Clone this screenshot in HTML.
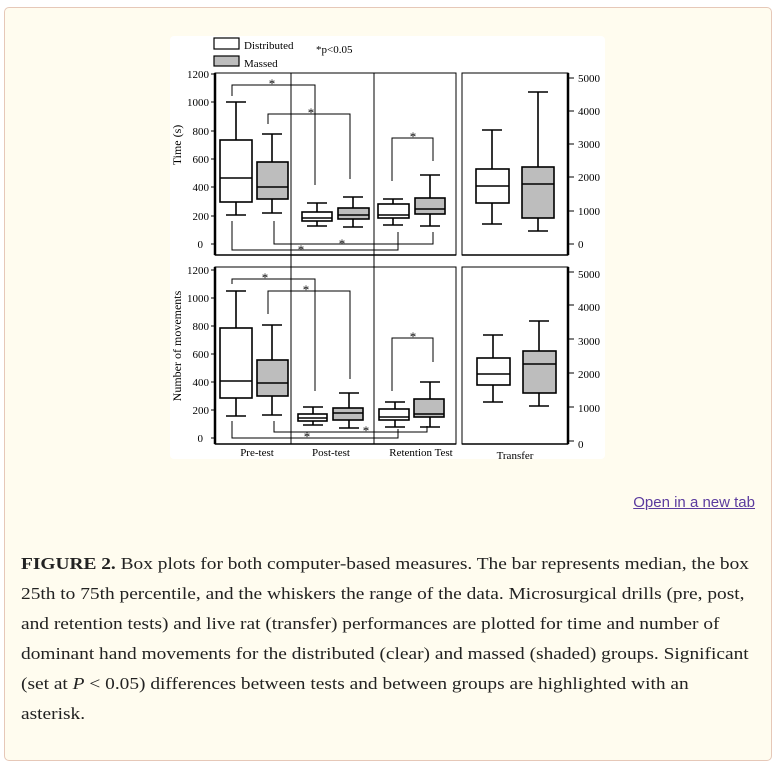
<!DOCTYPE html>
<html><head><meta charset="utf-8">
<style>
html,body{margin:0;padding:0;background:#fff;}
body{width:779px;height:767px;position:relative;overflow:hidden;font-family:"Liberation Serif",serif;}
.frame{position:absolute;left:4px;top:7px;width:766px;height:752px;border:1px solid #e6c8b8;border-radius:5px;background:#fffcef;}
.fig{position:absolute;left:170px;top:36px;width:435px;height:423px;background:#fff;border-radius:4px;}
.link{position:absolute;right:24px;top:494px;font-family:"Liberation Sans",sans-serif;font-size:15px;color:#5b3b9e;text-decoration:underline;}
.cap{position:absolute;left:21px;top:549px;font-size:17px;line-height:30px;color:#222;white-space:nowrap;transform:scaleX(1.14);transform-origin:0 0;}
svg{position:absolute;left:0;top:0;}
</style></head><body>
<div class="frame"></div>
<div class="fig"></div>
<svg width="779" height="767" font-family="Liberation Serif, serif" fill="none" stroke="#000">
<rect x="214" y="38" width="25" height="11" stroke-width="1.2" fill="#fff"/>
<rect x="214" y="56" width="25" height="10" stroke-width="1.2" fill="#bdbdbd"/>
<g fill="#000" stroke="none" font-size="11">
<text x="244" y="49">Distributed</text>
<text x="244" y="67">Massed</text>
<text x="316" y="53">*p&lt;0.05</text>
</g>
<rect x="215" y="73" width="241" height="182" stroke-width="1"/>
<rect x="462" y="73" width="106" height="182" stroke-width="1"/>
<line x1="215" y1="73" x2="215" y2="255" stroke-width="2.5"/>
<line x1="568" y1="73" x2="568" y2="255" stroke-width="2.5"/>
<line x1="215" y1="255" x2="456" y2="255" stroke-width="1.5"/>
<line x1="462" y1="255" x2="568" y2="255" stroke-width="1.5"/>
<line x1="291" y1="73" x2="291" y2="262" stroke-width="1"/>
<line x1="374" y1="73" x2="374" y2="262" stroke-width="1"/>
<g stroke-width="1">
<line x1="211" y1="74" x2="215" y2="74"/><line x1="211" y1="102" x2="215" y2="102"/><line x1="211" y1="131" x2="215" y2="131"/><line x1="211" y1="159" x2="215" y2="159"/><line x1="211" y1="187" x2="215" y2="187"/><line x1="211" y1="216" x2="215" y2="216"/><line x1="211" y1="244" x2="215" y2="244"/>
<line x1="568" y1="78" x2="574" y2="78"/><line x1="568" y1="111" x2="574" y2="111"/><line x1="568" y1="144" x2="574" y2="144"/><line x1="568" y1="177" x2="574" y2="177"/><line x1="568" y1="211" x2="574" y2="211"/><line x1="568" y1="244" x2="574" y2="244"/>
</g>
<g fill="#000" stroke="none" font-size="11" text-anchor="end">
<text x="209" y="78">1200</text><text x="209" y="106">1000</text><text x="209" y="135">800</text><text x="209" y="163">600</text><text x="209" y="191">400</text><text x="209" y="220">200</text><text x="203" y="248">0</text>
</g>
<g fill="#000" stroke="none" font-size="11">
<text x="578" y="82">5000</text><text x="578" y="115">4000</text><text x="578" y="148">3000</text><text x="578" y="181">2000</text><text x="578" y="215">1000</text><text x="578" y="248">0</text>
<text transform="translate(181,145) rotate(-90)" text-anchor="middle" font-size="12">Time (s)</text>
</g>
<g stroke-width="1.6">
<line x1="236" y1="102" x2="236" y2="215"/><line x1="226" y1="102" x2="246" y2="102"/><line x1="226" y1="215" x2="246" y2="215"/>
<rect x="220" y="140" width="32" height="62" fill="#fff"/><line x1="220" y1="178" x2="252" y2="178"/>
<line x1="272" y1="134" x2="272" y2="213"/><line x1="262" y1="134" x2="282" y2="134"/><line x1="262" y1="213" x2="282" y2="213"/>
<rect x="257" y="162" width="31" height="37" fill="#bdbdbd"/><line x1="257" y1="187" x2="288" y2="187"/>
<line x1="317" y1="203" x2="317" y2="226"/><line x1="307" y1="203" x2="327" y2="203"/><line x1="307" y1="226" x2="327" y2="226"/>
<rect x="302" y="212" width="30" height="9" fill="#fff"/><line x1="302" y1="218" x2="332" y2="218"/>
<line x1="353" y1="197" x2="353" y2="227"/><line x1="343" y1="197" x2="363" y2="197"/><line x1="343" y1="227" x2="363" y2="227"/>
<rect x="338" y="208" width="31" height="11" fill="#bdbdbd"/><line x1="338" y1="215" x2="369" y2="215"/>
<line x1="393" y1="199" x2="393" y2="225"/><line x1="383" y1="199" x2="403" y2="199"/><line x1="383" y1="225" x2="403" y2="225"/>
<rect x="378" y="204" width="31" height="14" fill="#fff"/><line x1="378" y1="215" x2="409" y2="215"/>
<line x1="430" y1="175" x2="430" y2="226"/><line x1="420" y1="175" x2="440" y2="175"/><line x1="420" y1="226" x2="440" y2="226"/>
<rect x="415" y="198" width="30" height="16" fill="#bdbdbd"/><line x1="415" y1="209" x2="445" y2="209"/>
<line x1="492" y1="130" x2="492" y2="224"/><line x1="482" y1="130" x2="502" y2="130"/><line x1="482" y1="224" x2="502" y2="224"/>
<rect x="476" y="169" width="33" height="34" fill="#fff"/><line x1="476" y1="186" x2="509" y2="186"/>
<line x1="538" y1="92" x2="538" y2="231"/><line x1="528" y1="92" x2="548" y2="92"/><line x1="528" y1="231" x2="548" y2="231"/>
<rect x="522" y="167" width="32" height="51" fill="#bdbdbd"/><line x1="522" y1="184" x2="554" y2="184"/>
</g>
<g stroke-width="1">
<polyline points="232,96 232,85 315,85 315,185"/>
<polyline points="268,124 268,114 350,114 350,179"/>
<polyline points="392,181 392,138 433,138 433,161"/>
<polyline points="232,221 232,250 398,250 398,232"/>
<polyline points="274,221 274,244 433,244 433,232"/>
</g>
<g fill="#000" stroke="none" font-size="13" text-anchor="middle">
<text x="272" y="88">*</text><text x="311" y="117">*</text><text x="413" y="141">*</text><text x="301" y="254">*</text><text x="342" y="248">*</text>
</g>
<rect x="215" y="267" width="241" height="177" stroke-width="1"/>
<rect x="462" y="267" width="106" height="177" stroke-width="1"/>
<line x1="215" y1="267" x2="215" y2="444" stroke-width="2.5"/>
<line x1="568" y1="267" x2="568" y2="444" stroke-width="2.5"/>
<line x1="215" y1="444" x2="456" y2="444" stroke-width="1.5"/>
<line x1="462" y1="444" x2="568" y2="444" stroke-width="1.5"/>
<line x1="291" y1="262" x2="291" y2="444" stroke-width="1"/>
<line x1="374" y1="262" x2="374" y2="444" stroke-width="1"/>
<g stroke-width="1">
<line x1="211" y1="270" x2="215" y2="270"/><line x1="211" y1="298" x2="215" y2="298"/><line x1="211" y1="326" x2="215" y2="326"/><line x1="211" y1="354" x2="215" y2="354"/><line x1="211" y1="382" x2="215" y2="382"/><line x1="211" y1="410" x2="215" y2="410"/><line x1="211" y1="438" x2="215" y2="438"/>
<line x1="568" y1="272" x2="574" y2="272"/><line x1="568" y1="305" x2="574" y2="305"/><line x1="568" y1="339" x2="574" y2="339"/><line x1="568" y1="373" x2="574" y2="373"/><line x1="568" y1="407" x2="574" y2="407"/><line x1="568" y1="441" x2="574" y2="441"/>
</g>
<g fill="#000" stroke="none" font-size="11" text-anchor="end">
<text x="209" y="274">1200</text><text x="209" y="302">1000</text><text x="209" y="330">800</text><text x="209" y="358">600</text><text x="209" y="386">400</text><text x="209" y="414">200</text><text x="203" y="442">0</text>
</g>
<g fill="#000" stroke="none" font-size="11">
<text x="578" y="278">5000</text><text x="578" y="311">4000</text><text x="578" y="345">3000</text><text x="578" y="378">2000</text><text x="578" y="412">1000</text><text x="578" y="448">0</text>
<text transform="translate(181,346) rotate(-90)" text-anchor="middle" font-size="12">Number of movements</text>
<text x="257" y="456" text-anchor="middle">Pre-test</text>
<text x="331" y="456" text-anchor="middle">Post-test</text>
<text x="421" y="456" text-anchor="middle">Retention Test</text>
<text x="515" y="459" text-anchor="middle">Transfer</text>
</g>
<g stroke-width="1.6">
<line x1="236" y1="291" x2="236" y2="416"/><line x1="226" y1="291" x2="246" y2="291"/><line x1="226" y1="416" x2="246" y2="416"/>
<rect x="220" y="328" width="32" height="70" fill="#fff"/><line x1="220" y1="381" x2="252" y2="381"/>
<line x1="272" y1="325" x2="272" y2="415"/><line x1="262" y1="325" x2="282" y2="325"/><line x1="262" y1="415" x2="282" y2="415"/>
<rect x="257" y="360" width="31" height="36" fill="#bdbdbd"/><line x1="257" y1="383" x2="288" y2="383"/>
<line x1="313" y1="407" x2="313" y2="425"/><line x1="303" y1="407" x2="323" y2="407"/><line x1="303" y1="425" x2="323" y2="425"/>
<rect x="298" y="414" width="29" height="7" fill="#fff"/><line x1="298" y1="418" x2="327" y2="418"/>
<line x1="349" y1="393" x2="349" y2="428"/><line x1="339" y1="393" x2="359" y2="393"/><line x1="339" y1="428" x2="359" y2="428"/>
<rect x="333" y="408" width="30" height="12" fill="#bdbdbd"/><line x1="333" y1="413" x2="363" y2="413"/>
<line x1="395" y1="402" x2="395" y2="427"/><line x1="385" y1="402" x2="405" y2="402"/><line x1="385" y1="427" x2="405" y2="427"/>
<rect x="379" y="409" width="30" height="11" fill="#fff"/><line x1="379" y1="417" x2="409" y2="417"/>
<line x1="430" y1="382" x2="430" y2="427"/><line x1="420" y1="382" x2="440" y2="382"/><line x1="420" y1="427" x2="440" y2="427"/>
<rect x="414" y="399" width="30" height="18" fill="#bdbdbd"/><line x1="414" y1="414" x2="444" y2="414"/>
<line x1="493" y1="335" x2="493" y2="402"/><line x1="483" y1="335" x2="503" y2="335"/><line x1="483" y1="402" x2="503" y2="402"/>
<rect x="477" y="358" width="33" height="27" fill="#fff"/><line x1="477" y1="374" x2="510" y2="374"/>
<line x1="539" y1="321" x2="539" y2="406"/><line x1="529" y1="321" x2="549" y2="321"/><line x1="529" y1="406" x2="549" y2="406"/>
<rect x="523" y="351" width="33" height="42" fill="#bdbdbd"/><line x1="523" y1="364" x2="556" y2="364"/>
</g>
<g stroke-width="1">
<polyline points="232,284 232,279 315,279 315,391"/>
<polyline points="268,314 268,291 350,291 350,379"/>
<polyline points="392,391 392,338 433,338 433,362"/>
<polyline points="232,421 232,438 398,438 398,429"/>
<polyline points="274,421 274,432 427,432 427,426"/>
</g>
<g fill="#000" stroke="none" font-size="13" text-anchor="middle">
<text x="265" y="282">*</text><text x="306" y="294">*</text><text x="413" y="341">*</text><text x="307" y="441">*</text><text x="366" y="435">*</text>
</g>
</svg>
<div class="link">Open in a new tab</div>
<div class="cap"><b>FIGURE 2.</b> Box plots for both computer-based measures. The bar represents median, the box<br>25th to 75th percentile, and the whiskers the range of the data. Microsurgical drills (pre, post,<br>and retention tests) and live rat (transfer) performances are plotted for time and number of<br>dominant hand movements for the distributed (clear) and massed (shaded) groups. Significant<br>(set at <i>P</i> &lt; 0.05) differences between tests and between groups are highlighted with an<br>asterisk.</div>
</body></html>
